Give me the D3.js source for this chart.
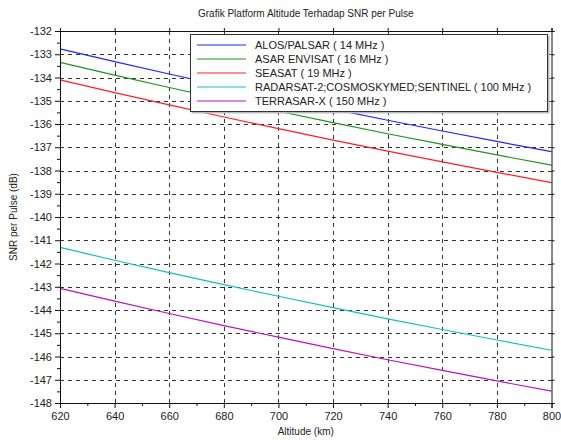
<!DOCTYPE html>
<html>
<head>
<meta charset="utf-8">
<script src="https://cdn.jsdelivr.net/npm/d3@7"></script>
<style>
  body { margin: 0; background: #fff; }
  svg text { font-family: "Liberation Sans", Arial, sans-serif; fill: #222; }
</style>
</head>
<body>
<div id="chart"></div>
<script>
const altitudes = [620, 640, 660, 680, 700, 720, 740, 760, 780, 800]
const alos = [-132.77, -133.32, -133.85, -134.37, -134.87, -135.36, -135.84, -136.30, -136.75, -137.19]
const asar = [-133.35, -133.90, -134.43, -134.95, -135.45, -135.94, -136.42, -136.88, -137.33, -137.77]
const seasat = [-134.10, -134.65, -135.18, -135.70, -136.20, -136.69, -137.17, -137.63, -138.08, -138.52]
const radarsat = [-141.31, -141.86, -142.39, -142.91, -143.41, -143.90, -144.38, -144.84, -145.29, -145.73]
const terrasar = [-143.07, -143.62, -144.15, -144.67, -145.17, -145.66, -146.14, -146.60, -147.05, -147.49]

const seriesNames = ['ALOS/PALSAR ( 14 MHz )', 'ASAR ENVISAT ( 16 MHz )', 'SEASAT ( 19 MHz )',
    'RADARSAT-2;COSMOSKYMED;SENTINEL ( 100 MHz )', 'TERRASAR-X ( 150 MHz )']
const seriesColors = ['#2424ff', '#1e961e', '#ff1e1e', '#10c0c0', '#c010c0']
const xTicks = [620, 640, 660, 680, 700, 720, 740, 760, 780, 800]
const yTicks = d3.range(-148, -131, 1)

const width = 561, height = 440
const margin = {top: 31, right: 9, bottom: 37, left: 60}

const series = [alos, asar, seasat, radarsat, terrasar].map((vals, i) => ({
    name: seriesNames[i],
    color: seriesColors[i],
    points: vals.map((v, j) => ({x: altitudes[j], y: v}))
}))

const svg = d3.select('#chart').append('svg')
    .attr('width', width)
    .attr('height', height)

const x = d3.scaleLinear().domain([620, 800]).range([margin.left, width - margin.right - 0.5])
const y = d3.scaleLinear().domain([-148, -132]).range([height - margin.bottom, margin.top])

// grid
svg.append('g')
    .selectAll('line.vgrid')
    .data(xTicks.slice(1, -1))
    .enter().append('line')
    .attr('x1', d => Math.round(x(d)) + 0.5)
    .attr('x2', d => Math.round(x(d)) + 0.5)
    .attr('y1', y(-132))
    .attr('y2', y(-148))
    .style('stroke', '#333')
    .style('stroke-dasharray', '4,4')

svg.append('g')
    .selectAll('line.hgrid')
    .data(yTicks.slice(1, -1))
    .enter().append('line')
    .attr('x1', x(620))
    .attr('x2', x(800))
    .attr('y1', d => Math.round(y(d)) + 0.5)
    .attr('y2', d => Math.round(y(d)) + 0.5)
    .style('stroke', '#333')
    .style('stroke-dasharray', '4,4')

// lines
const line = d3.line().x(d => x(d.x)).y(d => y(d.y))
svg.append('g')
    .selectAll('path')
    .data(series)
    .enter().append('path')
    .attr('d', d => line(d.points))
    .style('fill', 'none')
    .style('stroke', d => d.color)
    .style('stroke-width', 1.2)

// axes
const fmt = d => String(d)
const xMinor = d3.range(630, 800, 20)
const yMinor = d3.range(-147.5, -132, 1)

svg.append('g')
    .attr('transform', `translate(0, ${y(-148)})`)
    .call(d3.axisBottom(x).tickValues(xTicks).tickFormat(fmt).tickSize(5).tickPadding(4))
svg.append('g')
    .attr('transform', `translate(0, ${y(-148)})`)
    .call(d3.axisBottom(x).tickValues(xMinor).tickFormat('').tickSize(3))
    .select('.domain').remove()

svg.append('g')
    .attr('transform', `translate(${x(620)}, 0)`)
    .call(d3.axisLeft(y).tickValues(yTicks).tickFormat(fmt).tickSize(5).tickPadding(3))
svg.append('g')
    .attr('transform', `translate(${x(620)}, 0)`)
    .call(d3.axisLeft(y).tickValues(yMinor).tickFormat('').tickSize(3))
    .select('.domain').remove()

svg.append('g')
    .attr('transform', `translate(0, ${y(-132)})`)
    .call(d3.axisTop(x).tickValues(xTicks).tickFormat('').tickSize(3))
svg.append('g')
    .attr('transform', `translate(${x(800)}, 0)`)
    .call(d3.axisRight(y).tickValues(yTicks).tickFormat('').tickSize(3))

svg.selectAll('.tick text')
    .style('font-size', '11px')
    .style('fill', '#222')
svg.selectAll('.domain, .tick line')
    .style('stroke', '#111')

// title and labels
svg.append('text')
    .attr('x', (x(620) + x(800)) / 2)
    .attr('y', 17)
    .style('text-anchor', 'middle')
    .style('font-size', '10px')
    .text('Grafik Platform Altitude Terhadap SNR per Pulse')

svg.append('text')
    .attr('x', (x(620) + x(800)) / 2)
    .attr('y', 435)
    .style('text-anchor', 'middle')
    .style('font-size', '10px')
    .text('Altitude (km)')

svg.append('text')
    .attr('transform', `translate(17, ${(y(-132) + y(-148)) / 2})rotate(-90)`)
    .style('text-anchor', 'middle')
    .style('font-size', '10px')
    .text('SNR per Pulse (dB)')

// legend
const legend = svg.append('g').attr('transform', 'translate(190, 34)')
legend.append('rect')
    .attr('x', 1.5)
    .attr('y', 1.5)
    .attr('width', 358)
    .attr('height', 78)
    .style('fill', '#bbb')
legend.append('rect')
    .attr('x', 0.5)
    .attr('y', 0.5)
    .attr('width', 357)
    .attr('height', 77)
    .style('fill', '#fff')
    .style('stroke', '#333')

const rows = legend.selectAll('g.row')
    .data(series)
    .enter().append('g')
    .attr('transform', (d, i) => `translate(0, ${11 + i * 14})`)
rows.append('line')
    .attr('x1', 7)
    .attr('x2', 56)
    .style('stroke', d => d.color)
    .style('stroke-width', 1.2)
rows.append('text')
    .attr('x', 65)
    .attr('y', 4)
    .style('font-size', '11px')
    .text(d => d.name)
</script>
</body>
</html>
